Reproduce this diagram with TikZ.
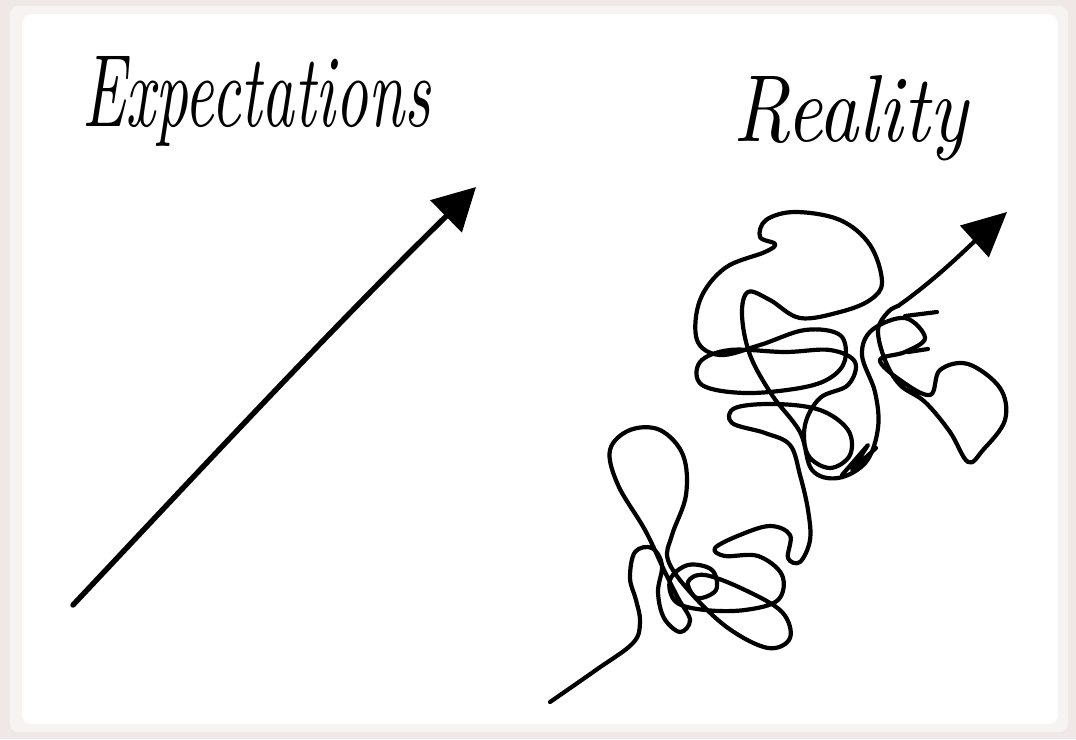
\documentclass[tikz,border=0pt]{standalone}
\usetikzlibrary{arrows.meta}
\definecolor{edgec}{RGB}{240,231,231}
\definecolor{edgec2}{RGB}{248,243,243}
\tikzset{
  pen/.style={line width=5.4pt, line cap=round, line join=round, black},
  scrib/.style={line width=4.2pt, line cap=round, line join=round, black}
}
\begin{document}
\begin{tikzpicture}[x=1pt,y=-1pt]
\useasboundingbox (0,0) rectangle (1076,739);
\fill[edgec] (0,0) rectangle (1076,739);
\fill[edgec2,rounded corners=8pt] (10,6) rectangle (1068,732);
\fill[white,rounded corners=10pt] (22,14) rectangle (1058,724);

% titles
\node[anchor=base west, inner sep=0pt] (t1) at (82,126) {\resizebox{348pt}{70pt}{\itshape Expectations}};
\node[anchor=base west, inner sep=0pt] (t2) at (733,141) {\resizebox{234pt}{66pt}{\itshape Reality}};

% expectation arrow
\coordinate (e0) at (73,605);
\coordinate (e1) at (476,187);
\draw[pen, -{Triangle[length=42pt,width=44pt]}] (e0) .. controls (200,470) and (330,330) .. (e1);

% reality scribble
\coordinate (r0) at (550,702);
\coordinate (r1) at (898,306);
\coordinate (r2) at (1007,212);
\draw[scrib] plot[smooth, tension=0.6] coordinates {
(550,702) (596,670) (633,643) (640,622) (636,600)
(630,578) (635,552) (652,548) (662,565) (658,592) (664,618) (680,632) (690,620) (678,598) (664,570)
(645,530) (618,485) (610,450) (630,430) (660,430) (683,455) (686,495) (672,535) (668,560)
(690,592) (728,628) (768,648) (790,638) (782,612) (745,590) (705,575)
(688,582) (697,598) (716,590) (712,570) (688,565) (670,580) (676,602) (705,610)
(745,610) (778,600) (782,575) (758,556) (725,556) (715,548) (740,535) (770,526)
(790,535) (788,558) (800,562) (810,540) (808,510) (800,475) (790,445)
(765,433) (732,423) (735,408) (775,404) (820,410) (848,430) (850,455) (830,468) (808,455) (805,425) (820,398) (848,385) (855,362) (830,350) (785,352) (730,350) (700,362) (702,385) (745,393) (800,388) (830,378)
(845,360) (840,335) (805,330) (760,345) (720,355) (697,340) (700,300) (725,268) (765,252) (775,244) (760,237) (766,220) (795,212) (840,220) (870,245) (882,282) (870,300) (840,312)
(800,318) (770,300) (748,292) (742,315) (750,355) (772,395) (800,432) (812,470) (838,478) (866,462) (878,428) (875,392) (862,355) (872,330) (905,318) (925,338) (905,352) (880,360)
(900,380) (930,395) (940,370) (968,364) (1000,388) (1005,420) (983,450) (968,462) (950,432) (925,402) (900,385) (885,360) (878,330) (888,312) (898,306)
};
\draw[scrib, -{Triangle[length=44pt,width=42pt]}] (r1) .. controls (935,280) and (965,250) .. (r2);
% small hash strokes
\draw[scrib] (905,316) -- (937,312);
\draw[scrib] (908,352) -- (928,349);
\draw[scrib] (842,475) -- (868,445) -- (852,470) -- (876,448);
\end{tikzpicture}
\end{document}
